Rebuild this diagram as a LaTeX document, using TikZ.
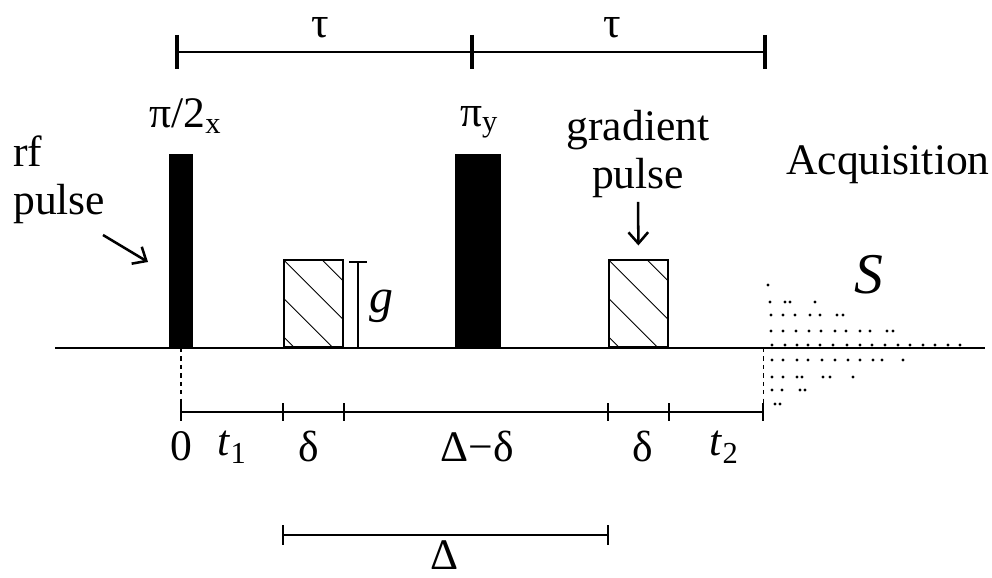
\documentclass[tikz,border=0pt]{standalone}
\usepackage{fontspec}
\setmainfont{Liberation Serif}
\usetikzlibrary{arrows.meta}

\begin{document}
\begin{tikzpicture}[
  x=0.025cm, y=-0.025cm,
  font=\fontsize{31}{34}\selectfont,
  lbl/.style = {inner sep=0pt},
  rfpulse/.style = {fill=black, inner sep=0pt, anchor=south, minimum height=4.85cm},
  gradpulse/.style = {
    draw=black, line width=1.1pt, inner sep=0pt, anchor=south,
    minimum width=1.475cm, minimum height=2.175cm,
  },
  hatch/.style = {line width=0.6pt},
  axis/.style = {line width=1.4pt},
  timeline/.style = {line width=1.1pt},
  tickmark/.style = {line width=1.7pt},
  arrow/.style = {-{Straight Barb[length=8pt,width=14pt]}, line width=1.8pt},
]
  \useasboundingbox (0,0) rectangle (992,578);

  % baseline, rf pulses and gradient pulses
  \draw[axis] (55,348) -- (985,348);
  \node[rfpulse, minimum width=0.6cm] (p1) at (181,348) {};
  \node[rfpulse, minimum width=1.15cm] (p2) at (478,348) {};
  \node[gradpulse] (g1) at (313.5,348) {};
  \node[gradpulse] (g2) at (638.5,348) {};
  \foreach \g in {g1,g2} {
    \begin{scope}
      \clip (\g.south west) rectangle (\g.north east);
      \foreach \k in {-1,...,2}
        \draw[hatch] ([shift={(0,\k*38.5)}]\g.north west) -- ++(120,120);
    \end{scope}
  }

  \node[lbl] (l1) at (185.5,116) {π/2\textsubscript{x}};
  \node[lbl] (l2) at (479,122) {π\textsubscript{y}};

  % tau bar
  \coordinate (a0) at (177,52);
  \coordinate (a1) at (472,52);
  \coordinate (a2) at (765,52);
  \draw[axis] (a0) -- (a2);
  \foreach \c in {a0,a1,a2}
    \draw[line width=2.2pt] ([shift={(0,-17)}]\c) -- ([shift={(0,17)}]\c);
  \node[lbl] (tau1) at (320,28) {τ};
  \node[lbl] (tau2) at (612,28) {τ};

  \node[lbl, align=left, anchor=west] (rf) at (13,180) {rf\\pulse};
  \coordinate (rftail) at (103,235);
  \coordinate (rfhead) at (148,262);
  \draw[arrow] (rftail) -- (rfhead);

  \node[lbl, align=center] (gl) at (638,154) {gradient\\pulse};
  \draw[arrow, shorten <=0.1cm, shorten >=0.35cm] (gl.south) -- (g2.north);

  \coordinate (gtop) at (358,262);
  \draw[timeline] (gtop |- g1.south) -- (gtop)
    ([shift={(-9,0)}]gtop) -- ([shift={(9,0)}]gtop);
  \node[lbl, font=\fontsize{34}{34}\selectfont\itshape] (gval) at (381,306) {g};

  \node[lbl] (acq) at (888,165) {Acquisition};
  \node[lbl, font=\fontsize{41}{41}\selectfont\itshape] (sig) at (869,275) {S};

  % time axis
  \coordinate (b0) at (181,412);
  \coordinate (b1) at (g1.south west |- b0);
  \coordinate (b2) at (g1.south east |- b0);
  \coordinate (b3) at (g2.south west |- b0);
  \coordinate (b4) at (g2.south east |- b0);
  \coordinate (b5) at (763,412);
  \draw[timeline] (b0) -- (b5);
  \foreach \i in {0,...,5}
    \draw[tickmark] ([shift={(0,-9)}]b\i) -- ([shift={(0,9)}]b\i);
  \draw[timeline, dashed] (p1.south) -- (b0);

  \node[lbl] (z0) at (181,446) {0};
  \node[lbl] (t1) at (232,447) {\textit{t}\textsubscript{1}};
  \node[lbl] (d1) at (309,446) {δ};
  \node[lbl] (dd) at (477,446) {Δ−δ};
  \node[lbl] (d2) at (643,446) {δ};
  \node[lbl] (t2) at (724,447) {\textit{t}\textsubscript{2}};

  \coordinate (e0) at ([shift={(0,123)}]b1);
  \coordinate (e1) at ([shift={(0,123)}]b3);
  \draw[timeline] (e0) -- (e1);
  \foreach \c in {e0,e1}
    \draw[timeline] ([shift={(0,-10)}]\c) -- ([shift={(0,10)}]\c);
  \node[lbl] (bigd) at (445,555) {Δ};

  % acquisition
  \draw[line width=0.6pt, dash pattern=on 3pt off 3pt] (b5 |- p1.south) -- (b5);
  \foreach \yy/\row in {285/{768}, 302/{770,785,790,815},
      315/{771,783,795,810,820,837,843},
      331/{771,783,796,809,821,835,846,860,870,887,893},
      345/{772,785,797,808,820,833,847,860,872,885,898,910,923,935,948,960},
      360/{772,783,797,808,822,835,848,860,873,882,903},
      377/{772,783,797,802,823,830,853},
      390/{772,782,800,805}, 404/{775,780}}
    \foreach \xx in \row
      \fill (\xx,\yy) circle (1.6);
\end{tikzpicture}
\end{document}
